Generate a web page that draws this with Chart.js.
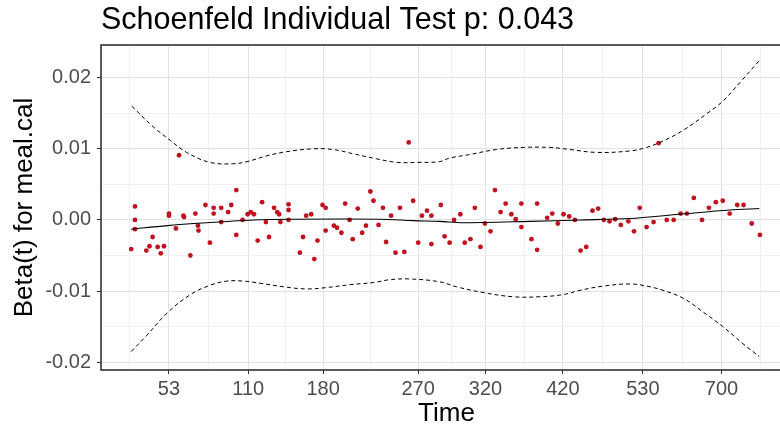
<!DOCTYPE html>
<html>
<head>
<meta charset="utf-8">
<title>Schoenfeld Individual Test</title>
<script src="https://cdn.jsdelivr.net/npm/chart.js@4.4.1/dist/chart.umd.min.js"></script>
<style>
  html, body { margin: 0; padding: 0; background: #fff; overflow: hidden; }
  canvas { display: block; }
</style>
</head>
<body>
<canvas id="zphChart" width="800" height="430"></canvas>
<script>
// x positions are on the transformed (km) time scale, 0..100 across the data
const TIME_TICKS = [6.0, 18.6, 30.5, 45.6, 56.3, 68.6, 81.3, 93.8];
const TIME_LABELS = ['53', '110', '180', '270', '320', '420', '530', '700'];
const BETA_TICKS = [-0.02, -0.01, 0, 0.01, 0.02];

// Schoenfeld residuals (scaled) for meal.cal
const RESID_T = [
  0, 0.6, 0.6, 0.6, 2.4, 2.9, 3.4, 4.2, 4.7, 5.2, 6.0, 6.0, 7.1, 7.6, 8.3, 8.4, 9.4, 10.2, 10.6, 10.7,
  11.8, 12.5, 13.1, 13.1, 14.3, 14.3, 15.4, 15.9, 16.7, 16.7, 17.7, 18.5, 19.0, 19.5, 20.1, 20.8, 21.4, 21.9, 22.7, 23.2,
  23.5, 23.7, 25.0, 25.0, 25.0, 26.8, 27.3, 27.8, 28.6, 29.1, 29.6, 30.4, 30.9, 30.9, 32.2, 32.7, 33.4, 34.0, 34.7, 35.2,
  36.0, 36.7, 37.3, 38.0, 38.5, 39.3, 40.0, 40.5, 41.3, 42.0, 42.7, 43.4, 44.1, 44.8, 45.6, 46.2, 47.0, 47.7, 47.7, 49.2,
  49.8, 50.6, 51.3, 52.3, 53.0, 53.9, 54.6, 55.5, 56.2, 57.1, 57.8, 58.7, 59.5, 60.4, 61.1, 62.0, 62.0, 63.6, 64.5, 64.5,
  66.1, 66.9, 67.8, 68.7, 69.6, 70.5, 71.4, 72.3, 73.3, 74.2, 75.1, 76.0, 76.9, 77.8, 79.0, 79.9, 80.8, 81.9, 83.0, 83.8,
  85.1, 86.2, 87.3, 88.3, 89.4, 90.7, 91.8, 92.9, 94.0, 95.1, 96.3, 97.3, 98.6, 99.9
];
const RESID_BETA = [
  -0.0041, 0.0019, 0.0000, -0.0013, -0.0043, -0.0037, -0.0024, -0.0038, -0.0047, -0.0037, 0.0009, 0.0006, -0.0012, 0.0091, 0.0006, 0.0004, -0.0050, 0.0009, -0.0008, -0.0015,
  0.0021, -0.0032, 0.0017, 0.0009, 0.0017, -0.0003, 0.0011, 0.0021, 0.0042, -0.0021, 0.0000, 0.0008, 0.0011, 0.0008, -0.0029, 0.0025, -0.0003, -0.0024, 0.0017, 0.0011,
  0.0008, -0.0003, 0.0022, 0.0014, 0.0000, -0.0046, -0.0024, 0.0006, 0.0008, -0.0055, -0.0029, 0.0021, 0.0017, -0.0015, -0.0008, -0.0011, -0.0018, 0.0023, 0.0000, -0.0027,
  0.0016, -0.0018, -0.0008, 0.0040, 0.0027, -0.0007, 0.0017, -0.0031, 0.0006, -0.0046, 0.0017, -0.0045, 0.0109, 0.0027, -0.0032, 0.0006, 0.0013, 0.0006, -0.0034, 0.0021,
  -0.0023, -0.0032, 0.0000, 0.0008, -0.0032, -0.0027, 0.0017, -0.0038, -0.0005, -0.0016, 0.0042, 0.0011, 0.0023, 0.0008, 0.0001, 0.0023, -0.0010, -0.0027, 0.0023, -0.0042,
  0.0003, 0.0009, -0.0005, 0.0008, 0.0005, 0.0000, -0.0043, -0.0038, 0.0013, 0.0016, 0.0000, -0.0002, 0.0001, -0.0007, -0.0002, -0.0016, 0.0017, -0.0010, -0.0003, 0.0108,
  0.0000, 0.0000, 0.0009, 0.0009, 0.0031, 0.0000, 0.0017, 0.0025, 0.0027, 0.0009, 0.0021, 0.0021, -0.0005, -0.0021
];

// smoothed beta(t)
const FIT_T = [0, 5.7, 12.0, 19.4, 25.8, 39.5, 44.8, 49.0, 52.7, 63.3, 71.3, 79.2, 87.1, 95.1, 99.8];
const FIT_BETA = [-0.0013, -0.0008, -0.0004, 0.0000, 0.0001, 0.0001, -0.0001, -0.0002, -0.0004, -0.0002, 0.0000, 0.0002, 0.0008, 0.0014, 0.0016];

// confidence band (upper / lower)
const CI_UP_T = [0.1, 3.5, 6.2, 8.8, 12.5, 16.2, 18.4, 21.5, 24.7, 28.9, 32.1, 35.3, 39.0, 42.2, 45.9, 49.0,
  50.6, 53.8, 58.0, 62.3, 66.5, 69.7, 73.9, 79.2, 81.9, 84.5, 87.7, 91.4, 94.0, 96.7, 99.8];
const CI_UP = [0.0160, 0.0131, 0.0112, 0.0095, 0.0081, 0.0079, 0.0082, 0.0090, 0.0096, 0.0100, 0.0099, 0.0093, 0.0086, 0.0081, 0.0081, 0.0082,
  0.0087, 0.0092, 0.0099, 0.0102, 0.0102, 0.0099, 0.0095, 0.0097, 0.0102, 0.0111, 0.0126, 0.0149, 0.0167, 0.0193, 0.0224];
const CI_LO_T = [0, 2.5, 5.7, 9.4, 12.5, 15.2, 17.8, 20.5, 24.2, 27.9, 31.1, 34.8, 38.5, 41.1, 44.3, 49.0,
  51.7, 55.9, 60.7, 64.9, 68.6, 71.3, 75.0, 79.2, 81.9, 84.5, 87.7, 90.8, 94.0, 97.2, 99.8];
const CI_LO = [-0.0185, -0.0162, -0.0131, -0.0105, -0.0092, -0.0086, -0.0086, -0.0089, -0.0094, -0.0097, -0.0095, -0.0091, -0.0088, -0.0084, -0.0083, -0.0087,
  -0.0094, -0.0102, -0.0108, -0.0108, -0.0105, -0.0099, -0.0093, -0.0090, -0.0093, -0.0099, -0.0110, -0.0129, -0.0150, -0.0174, -0.0192];

const FONT = "'Liberation Sans', Arial, sans-serif";

function toXY(xs, ys) {
  return xs.map((x, i) => ({ x: x, y: ys[i] }));
}

// minor grid lines sit half way between the major breaks (ggplot style)
function withMinors(major) {
  const out = [];
  const first = major[0] - (major[1] - major[0]) / 2;
  out.push(first);
  for (let i = 0; i < major.length; i++) {
    out.push(major[i]);
    const next = i < major.length - 1 ? major[i + 1] : major[i] + (major[i] - major[i - 1]);
    out.push((major[i] + next) / 2);
  }
  return out;
}

function isMajor(list, v) {
  return list.some(m => Math.abs(m - v) < 1e-9);
}

// draws the dark panel frame
const panelBorder = {
  id: 'panelBorder',
  afterDatasetsDraw(chart) {
    const a = chart.chartArea;
    const ctx = chart.ctx;
    ctx.save();
    ctx.strokeStyle = '#333333';
    ctx.lineWidth = 1.6;
    ctx.strokeRect(a.left, a.top, a.right - a.left, a.bottom - a.top);
    ctx.restore();
  }
};

function drawChart() {
  const ctx = document.getElementById('zphChart').getContext('2d');
  const xTicks = withMinors(TIME_TICKS);
  const yTicks = [-0.015, -0.005, 0.005, 0.015].concat(BETA_TICKS).sort((a, b) => a - b);

  const dashed = { borderColor: '#000', borderWidth: 1, borderDash: [4, 3], pointRadius: 0, showLine: true, tension: 0.4, fill: false, order: 1 };

  new Chart(ctx, {
    type: 'scatter',
    data: {
      datasets: [
        { label: 'upper', data: toXY(CI_UP_T, CI_UP), ...dashed },
        { label: 'lower', data: toXY(CI_LO_T, CI_LO), ...dashed },
        { label: 'beta', data: toXY(FIT_T, FIT_BETA), borderColor: '#000', borderWidth: 1.1, pointRadius: 0, showLine: true, tension: 0.3, order: 1 },
        { label: 'resid', data: toXY(RESID_T, RESID_BETA), backgroundColor: '#c1121f', borderWidth: 0, pointRadius: 2.4, order: 2 }
      ]
    },
    options: {
      responsive: false,
      animation: false,
      layout: { padding: { left: 0, right: 8, top: 0, bottom: 0 } },
      plugins: {
        legend: { display: false },
        tooltip: { enabled: false },
        title: {
          display: true,
          text: 'Schoenfeld Individual Test p: 0.043',
          align: 'start',
          fullSize: false,
          color: '#000',
          font: { family: FONT, size: 30.5, weight: 'normal', lineHeight: 1.2 },
          padding: { top: 2, bottom: 6.4 }
        }
      },
      scales: {
        x: {
          type: 'linear',
          min: -4.8,
          max: 105,
          afterBuildTicks: axis => { axis.ticks = xTicks.map(v => ({ value: v })); },
          afterFit: axis => { axis.height = 60; },
          ticks: {
            autoSkip: false,
            maxRotation: 0,
            padding: 3,
            color: '#4d4d4d',
            font: { family: FONT, size: 20 },
            callback: v => {
              const i = TIME_TICKS.findIndex(m => Math.abs(m - v) < 1e-9);
              return i >= 0 ? TIME_LABELS[i] : '';
            }
          },
          grid: {
            color: c => isMajor(TIME_TICKS, c.tick.value) ? '#e2e2e2' : '#eeeeee',
            lineWidth: c => isMajor(TIME_TICKS, c.tick.value) ? 1 : 0.8,
            tickColor: c => isMajor(TIME_TICKS, c.tick.value) ? '#333333' : 'rgba(0,0,0,0)',
            tickLength: 4
          },
          border: { display: false },
          title: {
            display: true,
            text: 'Time',
            color: '#000',
            font: { family: FONT, size: 26 },
            padding: { top: 0, bottom: 1 }
          }
        },
        y: {
          type: 'linear',
          min: -0.0211,
          max: 0.0246,
          afterBuildTicks: axis => { axis.ticks = yTicks.map(v => ({ value: v })); },
          afterFit: axis => { axis.width = 101; },
          ticks: {
            padding: 6,
            color: '#4d4d4d',
            font: { family: FONT, size: 20 },
            callback: v => isMajor(BETA_TICKS, v) ? (Math.abs(v) < 1e-9 ? '0.00' : v.toFixed(2)) : ''
          },
          grid: {
            color: c => isMajor(BETA_TICKS, c.tick.value) ? '#e2e2e2' : '#eeeeee',
            lineWidth: c => isMajor(BETA_TICKS, c.tick.value) ? 1 : 0.8,
            tickColor: c => isMajor(BETA_TICKS, c.tick.value) ? '#333333' : 'rgba(0,0,0,0)',
            tickLength: 4
          },
          border: { display: false },
          title: {
            display: true,
            text: 'Beta(t) for meal.cal',
            color: '#000',
            font: { family: FONT, size: 26 },
            padding: { top: 9, bottom: 0 }
          }
        }
      }
    },
    plugins: [panelBorder]
  });
}

window.onload = drawChart;
</script>
</body>
</html>
